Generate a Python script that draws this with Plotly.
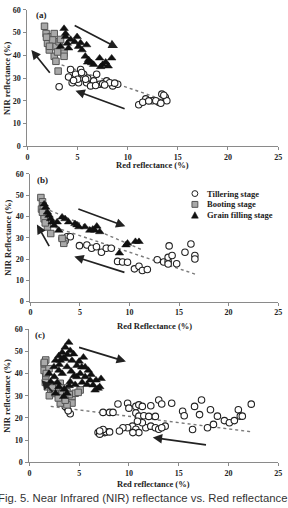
import plotly.graph_objects as go

# ---------------- Panel (a) data ----------------
a_till_x = [4.3, 4.8, 5.3, 5.6, 4.46, 5.1, 5.9, 6.6, 6.9, 7.2, 7.9, 8.5, 9.0, 8.2, 6.3, 3.16, 4.1, 5.0, 5.4, 6.0, 7.5, 8.7, 4.6, 5.8, 6.8, 7.7,
            11.1, 11.8, 12.45, 13.1, 13.4, 13.75, 13.9, 12.8, 11.5, 13.6, 12.1, 13.3]
a_till_y = [33.8, 31.7, 33.8, 31.7, 28.0, 28.0, 28.0, 28.8, 31.7, 27.3, 28.8, 26.6, 27.3, 28.0, 26.6, 26.2, 30.5, 29.5, 32.5, 30.0, 27.5, 27.8, 29.0, 29.5, 26.8, 27.0,
            18.3, 20.9, 20.1, 19.4, 23.0, 21.6, 20.1, 20.1, 19.4, 22.5, 20.0, 19.0]
a_boot_x = [1.7, 1.86, 2.35, 2.67, 2.0, 2.84, 3.16, 2.67, 2.84, 3.65, 3.65, 3.06, 3.3, 2.18, 2.5, 1.9, 2.2, 3.0]
a_boot_y = [52.8, 49.6, 48.2, 49.6, 45.3, 43.9, 46.0, 39.6, 37.4, 41.0, 39.6, 33.1, 47.0, 42.4, 46.8, 48.0, 44.0, 41.5]
a_grain_x = [3.65, 3.8, 3.97, 4.1, 4.95, 5.1, 5.44, 5.9, 5.77, 6.1, 6.4, 7.2, 7.5, 8.05, 8.4, 3.3, 3.8, 4.7, 6.0, 7.8, 4.3, 5.3, 6.6, 7.3]
a_grain_y = [51.8, 48.2, 45.3, 43.2, 48.2, 43.9, 42.4, 44.6, 39.6, 38.1, 36.7, 38.8, 36.0, 35.3, 38.8, 43.9, 49.6, 46.0, 37.0, 37.0, 47.0, 45.5, 36.0, 35.0]
a_trend_x = [2.84, 12.8]
a_trend_y = [36.7, 21.6]
# arrows: tail x, tail y, head x, head y
a_arrows = [(4.56, 53.5, 9.03, 43.2), (2.35, 31.7, 0.39, 42.4), (9.84, 16.3, 4.79, 24.5)]

# ---------------- Panel (b) data ----------------
b_till_x = [3.2, 3.7, 4.03, 4.95, 5.7, 6.18, 6.67, 7.17, 7.66, 8.16, 8.8, 9.3, 9.8, 10.5, 10.96, 11.3, 11.8, 12.8, 13.45, 13.9, 13.9,
            14.0, 14.3, 14.76, 15.6, 16.2, 16.6, 16.6, 13.9, 3.5]
b_till_y = [29.7, 30.5, 30.5, 26.3, 26.6, 25.1, 25.8, 23.2, 25.1, 25.1, 18.9, 18.6, 18.5, 15.4, 16.6, 14.6, 15.1, 19.7, 18.6, 18.9, 20.8,
            26.2, 21.7, 17.8, 23.2, 27.1, 21.7, 20.0, 17.7, 28.5]
b_boot_x = [1.06, 1.22, 1.12, 1.39, 1.39, 1.22, 2.05, 3.37, 3.2, 1.72, 1.5, 1.3]
b_boot_y = [48.9, 46.9, 43.5, 40.5, 38.9, 42.0, 32.0, 27.4, 29.7, 35.1, 37.0, 45.0]
b_grain_x = [1.39, 1.55, 1.72, 1.88, 2.05, 2.2, 2.4, 3.2, 3.5, 3.86, 4.5, 4.9, 5.5, 6.0, 6.5, 7.0, 6.7, 9.65, 8.98, 9.8, 10.6, 10.96, 2.87, 2.7, 4.7, 6.3]
b_grain_y = [45.8, 44.3, 42.0, 40.5, 38.9, 37.4, 35.8, 39.7, 38.9, 37.4, 36.6, 35.1, 35.1, 33.5, 33.5, 32.8, 35.4, 26.6, 22.8, 27.4, 28.2, 28.2, 33.5, 37.4, 36.0, 34.0]
b_trend_x = [1.39, 16.7]
b_trend_y = [36.6, 12.8]
b_trend2_x = [1.4, 11.2]
b_trend2_y = [44.0, 24.5]
b_arrows = [(4.69, 43.8, 9.58, 35.4), (1.98, 25.4, 0.66, 36.2), (9.64, 13.5, 4.43, 21.2)]

# ---------------- Panel (c) data ----------------
c_till_x = [3.78, 4.1, 3.6, 3.9, 7.4, 8.06, 8.4, 8.9, 9.87, 10.0, 10.7, 11.0, 11.35, 12.2, 13.0, 13.3, 14.3, 10.7, 11.0, 11.5, 12.0, 12.66,
            10.36, 10.7, 11.0, 11.7, 12.2, 12.66, 13.0, 13.65, 13.3, 9.87, 10.4, 9.4, 9.05, 11.35, 10.86,
            6.9, 7.24, 7.57, 7.07, 7.73, 7.4, 8.06, 7.07,
            15.4, 15.56, 16.4, 16.6, 17.3, 17.1, 17.9, 18.2, 18.5, 18.9, 19.6, 20.1, 20.6, 21.0, 21.2, 21.4, 22.3]
c_till_y = [24.4, 21.9, 25.2, 23.2, 22.5, 22.5, 22.5, 26.3, 26.6, 24.4, 25.2, 25.9, 25.2, 25.5, 28.1, 26.3, 26.6, 22.2, 20.8, 21.0, 20.7, 20.7,
            16.3, 14.9, 13.4, 15.6, 16.3, 15.6, 14.9, 16.3, 15.6, 15.6, 13.4, 15.6, 14.1, 17.8, 18.5,
            13.4, 13.7, 13.4, 12.7, 13.7, 14.8, 13.7, 14.1,
            23.0, 21.0, 14.8, 25.2, 28.1, 21.5, 15.6, 23.7, 17.1, 20.8, 18.8, 17.8, 18.8, 23.7, 20.8, 20.8, 26.2]
c_boot_x = [1.64, 1.48, 1.48, 1.64, 1.8, 2.14, 2.8, 3.3, 3.1, 3.78, 3.95, 4.28, 4.6, 5.1, 4.28, 1.97, 2.47, 3.1, 3.78, 1.6, 2.0,
            1.5, 1.7, 2.3, 2.6, 3.4, 4.0, 4.9, 3.6, 2.9]
c_boot_y = [46.1, 44.4, 41.4, 38.5, 34.0, 32.6, 32.6, 31.1, 35.6, 31.8, 28.9, 29.6, 31.1, 32.6, 26.7, 42.2, 34.8, 26.7, 25.9, 36.0, 30.0,
            45.0, 40.0, 33.5, 31.0, 33.5, 30.5, 31.5, 28.0, 29.0]
c_grain_x = [3.95, 3.6, 3.3, 2.96, 2.63, 2.47, 2.96, 3.3, 3.78, 4.28, 4.44, 4.1, 4.77, 5.1, 5.26, 5.6, 5.92, 6.1, 6.4, 6.9, 6.7,
             2.96, 1.97, 2.14, 2.63, 3.45, 3.78, 4.77, 5.6, 4.1, 3.1, 3.6, 7.2, 7.07, 5.43,
             3.0, 3.4, 3.8, 4.2, 4.5, 5.0, 5.3, 5.8, 6.2, 6.6, 2.5, 2.8, 3.5, 4.0, 4.6]
c_grain_y = [54.0, 51.8, 49.5, 48.0, 45.9, 43.0, 41.4, 40.0, 43.0, 45.9, 48.8, 50.3, 43.6, 40.0, 42.9, 38.5, 41.4, 37.0, 34.8, 33.3, 37.0,
             34.0, 40.0, 36.3, 31.1, 29.6, 31.1, 38.5, 42.9, 36.3, 45.9, 46.6, 37.7, 34.0, 47.3,
             44.0, 47.0, 48.5, 41.0, 39.0, 45.5, 36.0, 35.0, 39.5, 32.5, 38.5, 36.0, 33.0, 34.5, 35.0]
c_trend_x = [2.14, 22.4]
c_trend_y = [25.2, 13.7]
c_arrows = [(4.84, 52.0, 9.7, 45.4), (2.47, 31.1, 1.22, 37.0), (17.9, 7.8, 12.4, 11.2)]

x_ticks = [0, 5, 10, 15, 20, 25]
y_ticks = [0, 10, 20, 30, 40, 50, 60]

SERIF = "Liberation Serif"
W, H = 288, 508

panels = [
    dict(name="a", till=(a_till_x, a_till_y), boot=(a_boot_x, a_boot_y), grain=(a_grain_x, a_grain_y),
         trends=[(a_trend_x, a_trend_y)], arrows=a_arrows, xdom=(26, 282), ydom=(6, 145),
         xt="Red reflectance (%)", yt="NIR reflectance (%)", xt_y=164, yt_x=5, label="(a)", label_px=(40, 11)),
    dict(name="b", till=(b_till_x, b_till_y), boot=(b_boot_x, b_boot_y), grain=(b_grain_x, b_grain_y),
         trends=[(b_trend_x, b_trend_y), (b_trend2_x, b_trend2_y)], arrows=b_arrows, xdom=(29, 282), ydom=(173, 303),
         xt="Red Reflectance (%)", yt="NIR Reflectance (%)", xt_y=328, yt_x=6, label="(b)", label_px=(41, 179)),
    dict(name="c", till=(c_till_x, c_till_y), boot=(c_boot_x, c_boot_y), grain=(c_grain_x, c_grain_y),
         trends=[(c_trend_x, c_trend_y)], arrows=c_arrows, xdom=(28, 282), ydom=(331, 466.6),
         xt="Red reflectance (%)", yt="NIR reflectance (%)", xt_y=489, yt_x=5, label="(c)", label_px=(39, 337)),
]

fig = go.Figure()
annotations = []
shapes = []
layout_axes = {}

for i, p in enumerate(panels):
    n = "" if i == 0 else str(i + 1)
    xa, ya = "x" + n, "y" + n
    for tx, ty in p["trends"]:
        fig.add_trace(go.Scatter(x=tx, y=ty, mode="lines", xaxis=xa, yaxis=ya, showlegend=False,
                                 line=dict(color="#7a7a7a", width=1.4, dash="dot"), hoverinfo="skip"))
    fig.add_trace(go.Scatter(x=p["till"][0], y=p["till"][1], mode="markers", xaxis=xa, yaxis=ya, showlegend=False,
                             marker=dict(symbol="circle", size=6.5, color="white", line=dict(color="#222", width=1.1))))
    fig.add_trace(go.Scatter(x=p["boot"][0], y=p["boot"][1], mode="markers", xaxis=xa, yaxis=ya, showlegend=False,
                             marker=dict(symbol="square", size=6.5, color="#a9a9a9", line=dict(color="#555", width=1))))
    fig.add_trace(go.Scatter(x=p["grain"][0], y=p["grain"][1], mode="markers", xaxis=xa, yaxis=ya, showlegend=False,
                             marker=dict(symbol="triangle-up", size=7.5, color="#111", line=dict(color="#111", width=0.5))))
    axkw = dict(showline=True, linecolor="#8a8a8a", linewidth=1, ticks="outside", ticklen=3, tickcolor="#8a8a8a",
                showgrid=False, zeroline=False, tickfont=dict(family=SERIF, size=8, color="#222", weight="bold"))
    layout_axes["xaxis" + n] = dict(domain=[p["xdom"][0] / W, p["xdom"][1] / W], range=[0, 25], tickvals=x_ticks,
                                    anchor=ya, ticklabelstandoff=0, **axkw)
    layout_axes["yaxis" + n] = dict(domain=[1 - p["ydom"][1] / H, 1 - p["ydom"][0] / H], range=[0, 60], tickvals=y_ticks,
                                    anchor=xa, ticklabelstandoff=1, **axkw)
    for (tx, ty, hx, hy) in p["arrows"]:
        annotations.append(dict(x=hx, y=hy, ax=tx, ay=ty, xref=xa, yref=ya, axref=xa, ayref=ya, text="",
                                showarrow=True, arrowhead=2, arrowsize=1.1, arrowwidth=1.7, arrowcolor="#222"))
    cx = (p["xdom"][0] + p["xdom"][1]) / 2 / W
    annotations.append(dict(x=cx, y=1 - p["xt_y"] / H, xref="paper", yref="paper", text=p["xt"], showarrow=False,
                            font=dict(family=SERIF, size=8.5, color="#222", weight="bold"), yanchor="middle"))
    cy = 1 - (p["ydom"][0] + p["ydom"][1]) / 2 / H
    annotations.append(dict(x=p["yt_x"] / W, y=cy, xref="paper", yref="paper", text=p["yt"], showarrow=False,
                            textangle=-90, font=dict(family=SERIF, size=8.5, color="#222", weight="bold"),
                            xanchor="center", yanchor="middle"))
    annotations.append(dict(x=p["label_px"][0] / W, y=1 - p["label_px"][1] / H, xref="paper", yref="paper",
                            text=p["label"], showarrow=False, font=dict(family=SERIF, size=9, color="#222", weight="bold"),
                            xanchor="center", yanchor="middle"))

# manual legend in panel (b)
legend_labels = ["Tillering stage", "Booting stage", "Grain filling stage"]
leg_y = [193, 204, 215]
mx = 197
for lab, ly in zip(legend_labels, leg_y):
    annotations.append(dict(x=207 / W, y=1 - ly / H, xref="paper", yref="paper", text=lab, showarrow=False,
                            xanchor="left", yanchor="middle",
                            font=dict(family=SERIF, size=8.5, color="#222", weight="bold")))
r = 3
shapes.append(dict(type="circle", xref="paper", yref="paper", x0=(mx - r) / W, x1=(mx + r) / W,
                   y0=1 - (leg_y[0] + r) / H, y1=1 - (leg_y[0] - r) / H, line=dict(color="#222", width=1), fillcolor="white"))
shapes.append(dict(type="rect", xref="paper", yref="paper", x0=(mx - r) / W, x1=(mx + r) / W,
                   y0=1 - (leg_y[1] + r) / H, y1=1 - (leg_y[1] - r) / H, line=dict(color="#555", width=1), fillcolor="#a9a9a9"))
ty = leg_y[2]
shapes.append(dict(type="path", xref="paper", yref="paper",
                   path=f"M {(mx - 3.5) / W},{1 - (ty + 3) / H} L {(mx + 3.5) / W},{1 - (ty + 3) / H} L {mx / W},{1 - (ty - 3.5) / H} Z",
                   line=dict(color="#111", width=0.5), fillcolor="#111"))

# caption (cut off at both edges as in the reference)
annotations.append(dict(x=143 / W, y=1 - 503 / H, xref="paper", yref="paper",
                        text="Fig. 5. Near Infrared (NIR) reflectance vs. Red reflectance", showarrow=False,
                        font=dict(family="Liberation Sans", size=11.3, color="#333"), xanchor="center", yanchor="middle"))

fig.update_layout(width=W, height=H, margin=dict(l=0, r=0, t=0, b=0), paper_bgcolor="white", plot_bgcolor="white",
                  showlegend=False, annotations=annotations, shapes=shapes, **layout_axes)

fig.write_html("out.html")
